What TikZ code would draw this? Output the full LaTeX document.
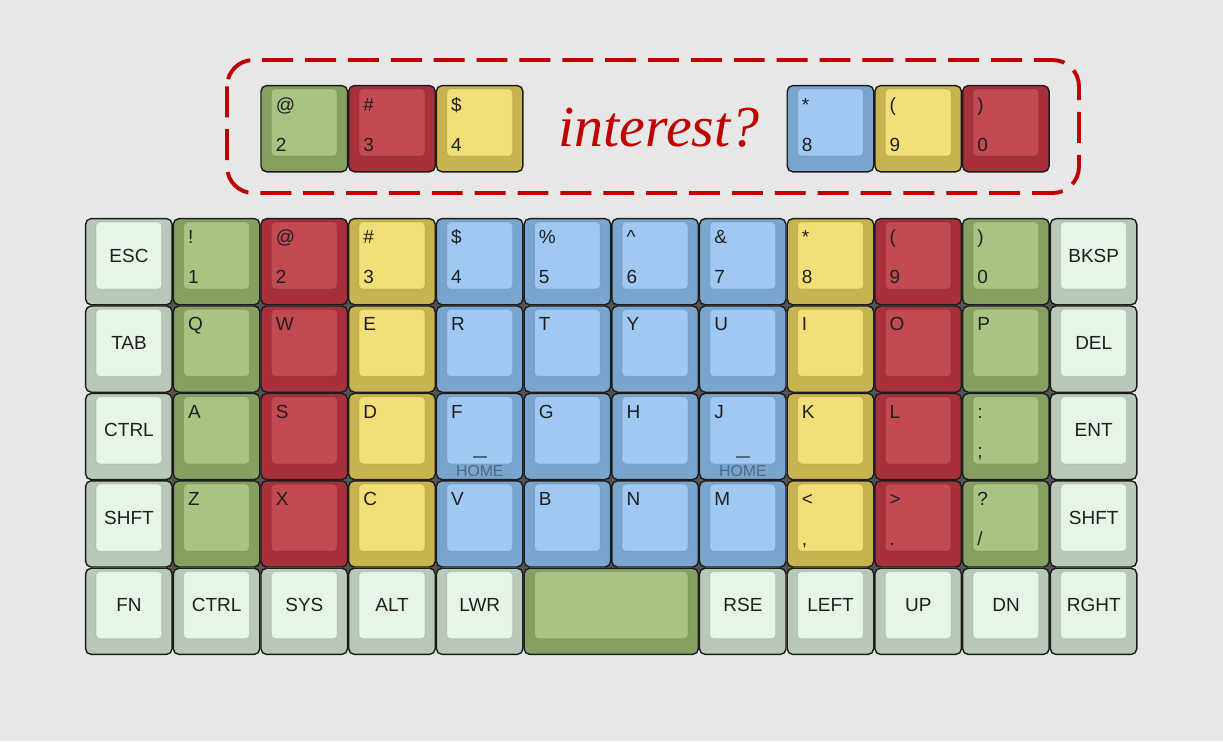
\documentclass[tikz,border=0pt]{standalone}
\usepackage{fontspec}
\setmainfont{Liberation Sans}
\newfontfamily\handfont{Liberation Serif}
\usetikzlibrary{positioning}

\definecolor{bgcol}{HTML}{E7E7E7}
\definecolor{keyline}{HTML}{1C1C1C}
\definecolor{jointcol}{HTML}{555555}
\definecolor{greyout}{HTML}{B9C9B9}
\definecolor{greyin}{HTML}{E6F5E6}
\definecolor{greenout}{HTML}{86A062}
\definecolor{greenin}{HTML}{A9C382}
\definecolor{redout}{HTML}{A8303B}
\definecolor{redin}{HTML}{C24A52}
\definecolor{yelout}{HTML}{C8B44E}
\definecolor{yelin}{HTML}{F2DF78}
\definecolor{blueout}{HTML}{7AA6CE}
\definecolor{bluein}{HTML}{9FC9F2}
\definecolor{homecol}{HTML}{4D6A86}
\definecolor{markred}{HTML}{C00000}

\tikzset{
  keyout/.style={draw=keyline, line width=0.8pt, rounded corners=3.2pt},
  keyin/.style={draw=black, draw opacity=0.08, line width=0.6pt, rounded corners=2.2pt},
  legend/.style={anchor=base west, inner sep=0pt, text=black!88},
  capname/.style={inner sep=0pt, text=black!88},
  homelbl/.style={inner sep=0pt, text=homecol, font=\fontsize{9}{10}\selectfont},
  homebar/.style={draw=homecol, line width=1.1pt},
  joint/.style={fill=jointcol},
  pickbox/.style={draw=markred, line width=2.2pt, rounded corners=15pt, dash pattern=on 17.6pt off 6.8pt}
}

\newcommand{\kcap}[4]{%
  \draw[keyout, fill=#3out] (#1+0.6,#2+0.6) rectangle (#1+87.7*#4-0.6,#2+86.8);
  \draw[keyin, fill=#3in] (#1+11,#2+4) rectangle (#1+87.7*#4-11,#2+71);
}

\begin{document}
\begin{tikzpicture}[x=0.02cm, y=-0.02cm, every node/.style={font=\fontsize{10.8}{12}\selectfont}]
  \fill[bgcol] (0,0) rectangle (1223,741);
  \useasboundingbox (0,0) rectangle (1223,741);

  \foreach \c in {1,...,11}
    \foreach \r in {1,...,4}
      \fill[joint] (85+87.7*\c,218+87.4*\r) +(-6.5,0) -- +(0,-6.5) -- +(6.5,0) -- +(0,6.5) -- cycle;

  \foreach \col [count=\c from 0] in {grey,green,red,yel,blue,blue,blue,blue,yel,red,green,grey}
    \foreach \r in {0,...,3}
      {\kcap{85+87.7*\c}{218+87.4*\r}{\col}{1}}
  \foreach \c in {0,1,2,3,4,7,8,9,10,11}
    {\kcap{85+87.7*\c}{218+87.4*4}{grey}{1}}
  \kcap{85+87.7*5}{218+87.4*4}{green}{2}

  \foreach \c/\r/\t in {0/0/ESC, 11/0/BKSP, 0/1/TAB, 11/1/DEL, 0/2/CTRL, 11/2/ENT,
      0/3/SHFT, 11/3/SHFT, 0/4/FN, 1/4/CTRL, 2/4/SYS, 3/4/ALT, 4/4/LWR,
      7/4/RSE, 8/4/LEFT, 9/4/UP, 10/4/DN, 11/4/RGHT}
    \node[capname] (name-\c-\r) at (85+87.7*\c+44,218+87.4*\r+37.5) {\t};

  \foreach \c/\r/\t in {1/0/!, 2/0/@, 3/0/\#, 4/0/\$, 5/0/\%, 6/0/\^{}, 7/0/\&, 8/0/*, 9/0/(, 10/0/),
      1/1/Q, 2/1/W, 3/1/E, 4/1/R, 5/1/T, 6/1/Y, 7/1/U, 8/1/I, 9/1/O, 10/1/P,
      1/2/A, 2/2/S, 3/2/D, 4/2/F, 5/2/G, 6/2/H, 7/2/J, 8/2/K, 9/2/L, 10/2/:,
      1/3/Z, 2/3/X, 3/3/C, 4/3/V, 5/3/B, 6/3/N, 7/3/M, 8/3/<, 9/3/>, 10/3/?}
    \node[legend] (top-\c-\r) at (85+87.7*\c+15,218+87.4*\r+25.5) {\t};

  \foreach \c/\t in {1/1, 2/2, 3/3, 4/4, 5/5, 6/6, 7/7, 8/8, 9/9, 10/0}
    \node[legend] (bot-\c-0) at (85+87.7*\c+15,218+65) {\t};
  \node[legend] (bot-10-2) at (85+87.7*10+15,218+87.4*2+65) {;};
  \node[legend] (bot-8-3) at (85+87.7*8+15,218+87.4*3+65) {,};
  \node[legend] (bot-9-3) at (85+87.7*9+15,218+87.4*3+65) {.};
  \node[legend] (bot-10-3) at (85+87.7*10+15,218+87.4*3+65) {/};

  \foreach \c in {4,7} {
    \draw[homebar] (85+87.7*\c+37,218+87.4*2+64) -- ++(14,0);
    \node[homelbl] (home-\c) at (85+87.7*\c+44,218+87.4*2+78) {HOME};
  }

  \foreach \c/\col/\t/\b in {2/green/@/2, 3/red/\#/3, 4/yel/\$/4, 8/blue/*/8, 9/yel/(/9, 10/red/)/0} {
    \kcap{85+87.7*\c}{85}{\col}{1}
    \node[legend] (pick-top-\c) at (85+87.7*\c+15,85+26) {\t};
    \node[legend] (pick-bot-\c) at (85+87.7*\c+15,85+66) {\b};
  }

  \draw[pickbox] (227,60) rectangle (1079,193);
  \node[text=markred, font=\handfont\itshape\fontsize{33}{33}\selectfont] (ask) at (659,128) {interest?};
\end{tikzpicture}
\end{document}
